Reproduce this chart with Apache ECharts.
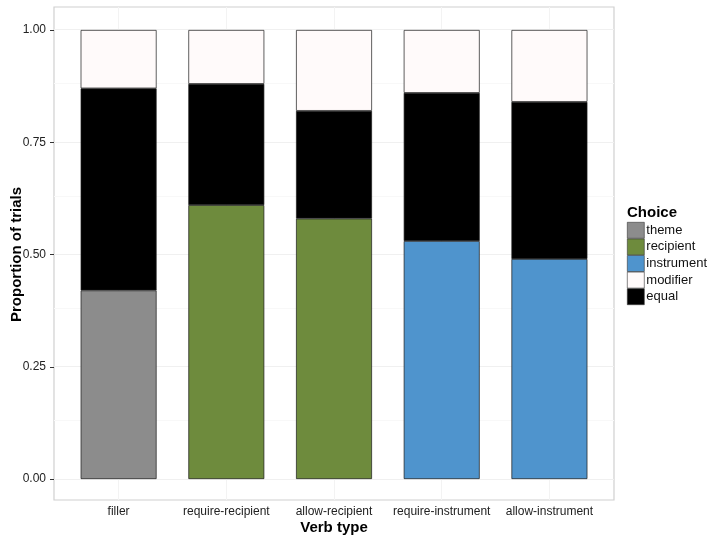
<!DOCTYPE html>
<html><head><meta charset="utf-8">
<script src="https://cdn.jsdelivr.net/npm/echarts@6/dist/echarts.min.js"></script>
<style>html,body{margin:0;padding:0;background:#fff}#c{width:714px;height:542px}</style>
</head><body><div id="c"></div>
<script>
const categories = ['filler','require-recipient','allow-recipient','require-instrument','allow-instrument'];
const theme = [0.42, '-', '-', '-', '-'];
const recipient = ['-', 0.61, 0.58, '-', '-'];
const instrument = ['-', '-', '-', 0.53, 0.49];
const equal = [0.45, 0.27, 0.24, 0.33, 0.35];
const modifier = [0.13, 0.12, 0.18, 0.14, 0.16];
const yTicks = [0, 0.25, 0.5, 0.75, 1];
const yMinor = [0.125, 0.375, 0.625, 0.875];
const xGridPos = [1, 2, 3, 4, 5];

const font = 'Liberation Sans, Arial, Helvetica, sans-serif';
const border = {borderColor:'#1a1a1a', borderWidth:0.7};
function bar(name, arr, color){
  return {
    name, type:'bar', stack:'s', barWidth:'70.5%', data:arr, xAxisIndex:1, yAxisIndex:1, z:3,
    itemStyle:Object.assign({color}, border), emphasis:{disabled:true}
  };
}
const gridMarks = {
  silent:true, symbol:'none', label:{show:false}, animation:false, z:1,
  data: [
    ...yTicks.map(v=>({yAxis:v, lineStyle:{color:'#f0f0f0', width:1, type:'solid'}})),
    ...yMinor.map(v=>({yAxis:v, lineStyle:{color:'#f8f8f8', width:1, type:'solid'}})),
    ...xGridPos.map(v=>({xAxis:v, lineStyle:{color:'#f3f3f3', width:1, type:'solid'}}))
  ]
};
const chart = echarts.init(document.getElementById('c'), null, {renderer:'canvas'});
chart.setOption({
  animation:false,
  textStyle:{fontFamily:font},
  grid:[
    {left:54, top:7, width:560, height:493, show:true, borderColor:'#d0d0d0', borderWidth:1.2, backgroundColor:'#fff', containLabel:false, outerBoundsMode:'none', z:0},
    {left:64.77, top:30, width:538.5, height:449, containLabel:false, outerBoundsMode:'none'}
  ],
  xAxis:[
    {gridIndex:0, type:'value', min:0.4, max:5.6, show:false, splitLine:{show:false}},
    {
      gridIndex:1, type:'category', data:categories, offset:21,
      axisLine:{show:false}, splitLine:{show:false},
      axisTick:{show:true, length:4, alignWithLabel:true, lineStyle:{color:'#333'}},
      axisLabel:{color:'#222', fontSize:12, margin:6, fontFamily:font, interval:0},
      name:'Verb type', nameLocation:'middle', nameGap:20, nameMoveOverlap:false,
      nameTextStyle:{fontWeight:'bold', fontSize:15, color:'#000', fontFamily:font}
    }
  ],
  yAxis:[
    {gridIndex:0, type:'value', min:-0.0468, max:1.0506, show:false, splitLine:{show:false}},
    {
      gridIndex:1, type:'value', min:0, max:1, interval:0.25, offset:10.77,
      axisLine:{show:false}, splitLine:{show:false},
      axisTick:{show:true, length:4, lineStyle:{color:'#333'}},
      axisLabel:{formatter:v=>v.toFixed(2), color:'#222', fontSize:12, margin:8, fontFamily:font},
      name:'Proportion of trials', nameLocation:'middle', nameGap:30, nameMoveOverlap:false,
      nameTextStyle:{fontWeight:'bold', fontSize:15, color:'#000', fontFamily:font}
    }
  ],
  legend:{
    orient:'vertical', left:627, top:222, itemWidth:17, itemHeight:16, itemGap:0, padding:0,
    icon:'rect', selectedMode:false,
    data:['theme','recipient','instrument','modifier','equal'],
    itemStyle:{borderWidth:0.6, borderColor:'#333'},
    textStyle:{fontSize:13, lineHeight:16, color:'#111', padding:[0,0,0,-3], fontFamily:font}
  },
  graphic:[{type:'text', left:627, top:205, style:{text:'Choice', font:'bold 15px '+font, fill:'#000'}}],
  series:[
    {type:'line', xAxisIndex:0, yAxisIndex:0, data:[], silent:true, z:1, markLine:gridMarks},
    bar('theme', theme, '#8c8c8c'),
    bar('recipient', recipient, '#6e8b3d'),
    bar('instrument', instrument, '#4f94cd'),
    bar('equal', equal, '#000000'),
    bar('modifier', modifier, '#fffafa')
  ]
});
</script></body></html>
